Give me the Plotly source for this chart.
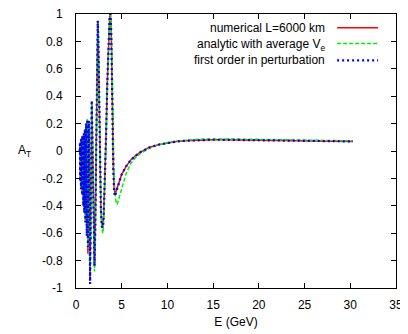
import plotly.graph_objects as go

# Energy grid (GeV)
E = [0.40, 0.42, 0.44, 0.46, 0.48, 0.50, 0.52, 0.545, 0.57, 0.60, 0.63, 0.66, 0.69,
     0.73, 0.77, 0.81, 0.86, 0.91, 0.97, 1.03, 1.10, 1.18, 1.24, 1.30, 1.40, 1.47,
     1.54, 1.60, 1.66, 1.72, 1.78, 1.86, 1.94, 2.02, 2.10, 2.18, 2.26, 2.32, 2.38,
     2.44, 2.52, 2.62, 2.72, 2.82, 2.92, 3.02, 3.14, 3.28, 3.42, 3.56, 3.68, 3.76,
     3.84, 3.92, 4.00, 4.08, 4.17, 4.25, 4.35, 4.50, 4.75, 5.0, 5.5, 6.0, 6.5, 7.0,
     7.5, 8.0, 9.0, 10.0, 11.0, 12.0, 13.0, 14.0, 15.0, 16.0, 18.0, 20.0, 22.0,
     24.0, 26.0, 28.0, 30.3]

# numerical L=6000 km
A_num = [0.00, -0.20, 0.05, -0.22, 0.06, -0.24, 0.07, -0.28, 0.08, -0.30, 0.09, -0.32, 0.10,
         -0.36, 0.11, -0.40, 0.13, -0.45, 0.16, -0.52, 0.20, -0.62, 0.23, -0.75, 0.22, -0.60,
         -0.93, -0.55, 0.05, 0.36, 0.15, -0.35, -0.74, -0.84, -0.60, 0.00, 0.60, 0.88, 0.95,
         0.82, 0.40, -0.10, -0.42, -0.55, -0.56, -0.48, -0.25, 0.10, 0.50, 0.84, 0.98, 1.00,
         0.90, 0.60, 0.15, -0.12, -0.27, -0.31, -0.30, -0.27, -0.21, -0.17, -0.11, -0.065, -0.035, -0.01,
         0.008, 0.025, 0.046, 0.060, 0.069, 0.075, 0.079, 0.081, 0.082, 0.082, 0.081, 0.079, 0.077,
         0.075, 0.073, 0.071, 0.070]

# analytic with average Ve
A_ana = [0.00, -0.20, 0.05, -0.22, 0.06, -0.24, 0.07, -0.28, 0.08, -0.30, 0.09, -0.32, 0.10,
         -0.36, 0.11, -0.40, 0.13, -0.45, 0.16, -0.52, 0.20, -0.62, 0.23, -0.70, 0.22, -0.62,
         -0.94, -0.60, 0.00, 0.34, 0.18, -0.30, -0.72, -0.88, -0.70, -0.10, 0.52, 0.86, 0.95,
         0.86, 0.48, -0.02, -0.38, -0.55, -0.60, -0.55, -0.35, 0.00, 0.40, 0.78, 0.96, 1.00,
         0.95, 0.72, 0.30, 0.00, -0.20, -0.30, -0.36, -0.39, -0.33, -0.26, -0.16, -0.09, -0.05, -0.02,
         0.003, 0.020, 0.045, 0.062, 0.073, 0.080, 0.084, 0.087, 0.088, 0.088, 0.087, 0.085, 0.083,
         0.081, 0.078, 0.076, 0.074]

# first order in perturbation
A_per = [0.00, -0.20, 0.05, -0.22, 0.06, -0.24, 0.07, -0.28, 0.08, -0.30, 0.09, -0.32, 0.10,
         -0.36, 0.11, -0.40, 0.13, -0.45, 0.16, -0.52, 0.20, -0.62, 0.23, -0.70, 0.22, -0.62,
         -0.97, -0.55, 0.05, 0.37, 0.15, -0.35, -0.74, -0.84, -0.60, 0.00, 0.60, 0.88, 0.95,
         0.82, 0.40, -0.10, -0.42, -0.55, -0.56, -0.48, -0.25, 0.10, 0.50, 0.84, 0.98, 1.00,
         0.90, 0.58, 0.13, -0.14, -0.29, -0.33, -0.31, -0.28, -0.22, -0.17, -0.11, -0.065, -0.035, -0.01,
         0.008, 0.025, 0.046, 0.060, 0.069, 0.075, 0.079, 0.081, 0.082, 0.082, 0.081, 0.079, 0.077,
         0.075, 0.073, 0.071, 0.070]

series_names = ["numerical L=6000 km", "analytic with average V<sub>e</sub>",
                "first order in perturbation"]
x_ticks = [0, 5, 10, 15, 20, 25, 30, 35]
y_ticks = [-1, -0.8, -0.6, -0.4, -0.2, 0, 0.2, 0.4, 0.6, 0.8, 1]
y_ticktext = ["-1", "-0.8", "-0.6", "-0.4", "-0.2", "0", "0.2", "0.4", "0.6", "0.8", "1"]
X_RANGE = [0, 35]
Y_RANGE = [-1, 1]

FONT = "Liberation Sans, Arial, sans-serif"
styles = [
    dict(color="#ff0000", width=1.5, dash="solid"),
    dict(color="#00ee00", width=1.5, dash="4px,2px"),
    dict(color="#0000ff", width=2.2, dash="2px,3px"),
]

fig = go.Figure()

for ys, st, name in zip([A_num, A_ana, A_per], styles, series_names):
    fig.add_trace(go.Scatter(x=E, y=ys, mode="lines", line=st, name=name, showlegend=False))

axis_common = dict(showgrid=False, zeroline=False, showline=True, linecolor="black",
                   linewidth=1, mirror="allticks", ticks="inside", ticklen=5,
                   tickcolor="black", tickwidth=1, automargin=False,
                   ticklabeloverflow="allow", layer="above traces",
                   tickfont=dict(family=FONT, size=12, color="black"))

fig.update_xaxes(range=X_RANGE, tickvals=x_ticks, ticktext=[str(v) for v in x_ticks],
                 ticklabelstandoff=6,
                 title=dict(text="E (GeV)", font=dict(family=FONT, size=12, color="black"),
                            standoff=6), **axis_common)
fig.update_yaxes(range=Y_RANGE, tickvals=y_ticks, ticktext=y_ticktext,
                 ticklabelstandoff=10, **axis_common)

# legend (gnuplot style: text right-aligned, sample to the right)
leg_y = [0.950, 0.888, 0.831]
for i, (name, st) in enumerate(zip(series_names, styles)):
    fig.add_annotation(x=0.784, y=leg_y[i], xref="paper", yref="paper", text=name,
                       showarrow=False, xanchor="right", yanchor="middle",
                       font=dict(family=FONT, size=12, color="black"))
    ly = [0.950, 0.892, 0.831][i]
    fig.add_shape(type="line", xref="paper", yref="paper", x0=0.816, x1=0.944, y0=ly, y1=ly,
                  line=st)

fig.add_annotation(x=-0.16, y=0.5, xref="paper", yref="paper", text="A<sub>T</sub>",
                   showarrow=False, xanchor="center", yanchor="middle",
                   font=dict(family=FONT, size=12, color="black"))

# page body has an 8px margin: size the figure to fit the 408x334 window
fig.update_layout(width=400, height=326, margin=dict(l=68, r=12, t=6, b=46),
                  plot_bgcolor="white", paper_bgcolor="white",
                  font=dict(family=FONT, size=12, color="black"))

fig.write_html("out.html")
